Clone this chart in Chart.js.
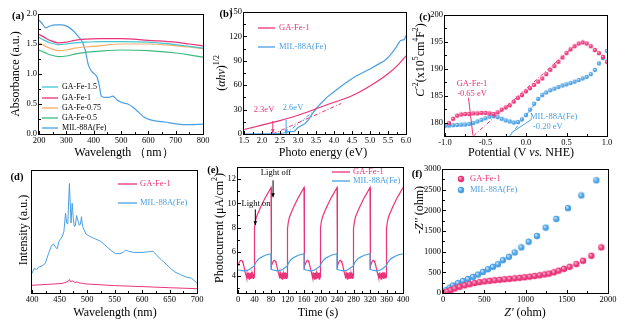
<!DOCTYPE html>
<html>
<head>
<meta charset="utf-8">
<script src="https://cdn.jsdelivr.net/npm/chart.js@4.4.1/dist/chart.umd.min.js"></script>
<style>
  html, body { margin: 0; padding: 0; background: #fff; }
  body { position: relative; width: 626px; height: 325px; overflow: hidden; }
  canvas { position: absolute; }
</style>
</head>
<body>
<canvas id="pa"></canvas>
<canvas id="pb"></canvas>
<canvas id="pc"></canvas>
<canvas id="pd"></canvas>
<canvas id="pe"></canvas>
<canvas id="pf"></canvas>
<script>
// ---------- (a) absorbance ----------
const aWave   = [200, 220, 240, 270, 300, 330, 370, 420, 500, 600, 700, 750, 800];
const aGA15   = [1.61, 1.56, 1.52, 1.49, 1.50, 1.52, 1.53, 1.54, 1.54, 1.53, 1.49, 1.46, 1.43];
const aGA1    = [1.66, 1.61, 1.56, 1.52, 1.53, 1.56, 1.58, 1.59, 1.59, 1.56, 1.53, 1.50, 1.47];
const aGA075  = [1.52, 1.47, 1.43, 1.39, 1.40, 1.43, 1.45, 1.47, 1.50, 1.50, 1.47, 1.45, 1.42];
const aGA05   = [1.40, 1.36, 1.32, 1.29, 1.30, 1.33, 1.36, 1.38, 1.40, 1.39, 1.35, 1.32, 1.28];
const aMilWave = [200, 210, 225, 240, 260, 285, 305, 325, 345, 360, 370, 380, 390, 400, 412, 420,
                  428, 440, 455, 470, 485, 500, 525, 545, 565, 585, 605, 630, 660, 700, 750, 800];
const aMil     = [1.90, 1.85, 1.77, 1.80, 1.82, 1.82, 1.79, 1.72, 1.62, 1.52, 1.38, 1.16, 1.06, 1.01, 0.95, 0.82,
                  0.63, 0.61, 0.61, 0.63, 0.57, 0.53, 0.50, 0.44, 0.36, 0.28, 0.24, 0.215, 0.20, 0.17, 0.155, 0.165];
const aLabels = ['GA-Fe-1.5', 'GA-Fe-1', 'GA-Fe-0.75', 'GA-Fe-0.5', 'MIL-88A(Fe)'];

// ---------- (b) Tauc plot ----------
const bE    = [1.5, 2.0, 2.5, 3.0, 3.5, 4.0, 4.5, 5.0, 5.5, 5.8, 6.0];
const bGA   = [5.5, 11, 16.5, 23, 31, 39, 47, 59, 74, 86, 96];
const bMilE = [1.5, 2.0, 2.4, 2.6, 2.7, 2.8, 2.9, 3.0, 3.1, 3.2, 3.3, 3.4, 3.5, 3.6, 3.8, 4.0,
               4.3, 4.6, 5.0, 5.2, 5.4, 5.5, 5.6, 5.7, 5.8, 5.85, 5.95, 6.0];
const bMil  = [0, 0.3, 0.6, 1.2, 2.5, 2.8, 3.2, 8, 10.5, 13, 18, 25, 31, 36, 45, 52,
               62, 71, 80, 85, 90, 94, 99, 105, 112, 115, 116, 121];
const bTanGAx = [2.3, 4.2],  bTanGAy = [0, 37.5];
const bTanMilx = [2.65, 3.55], bTanMily = [0, 32];
const bArrowX = [2.3, 2.67], bArrowTop = [16, 18], bArrowEnd = [1, 0.5];
const bGaps = ['2.3eV', '2.6eV'];

// ---------- (c) Mott-Schottky ----------
const cV   = [-0.95, -0.9, -0.85, -0.8, -0.75, -0.7, -0.65, -0.6, -0.55, -0.5, -0.45, -0.4, -0.35, -0.3,
              -0.25, -0.2, -0.15, -0.1, -0.05, 0, 0.05, 0.1, 0.15, 0.2, 0.25, 0.3, 0.35, 0.4, 0.45,
              0.5, 0.55, 0.6, 0.65, 0.7, 0.75, 0.8, 0.85, 0.9, 0.95, 1.0];
const cGA  = [179.9, 180.7, 181.3, 181.5, 181.6, 181.6, 181.7, 181.7, 181.8, 181.8, 181.7, 181.6, 181.9, 182.4,
              182.8, 183.2, 183.9, 184.6, 185.1, 185.8, 186.4, 187.0, 187.6, 188.2, 189.0, 189.8, 190.5, 191.3, 192.1,
              192.9, 193.6, 194.2, 194.7, 194.9, 194.7, 194.2, 193.5, 192.9, 192.2, 191.3];
const cVb  = [-1.0, -0.95, -0.9, -0.85, -0.8, -0.75, -0.7, -0.65, -0.6, -0.55, -0.5, -0.45, -0.4, -0.35,
              -0.3, -0.25, -0.2, -0.15, -0.1, -0.05, 0, 0.05, 0.1, 0.15, 0.2, 0.25, 0.3, 0.35, 0.4, 0.45,
              0.5, 0.55, 0.6, 0.65, 0.7, 0.75, 0.8, 0.85, 0.9, 0.95, 1.0];
const cMil = [179.4, 179.45, 179.5, 179.55, 179.6, 179.65, 179.75, 179.9, 180.2, 180.5, 180.8, 181.1, 181.2, 181.0,
              180.7, 180.4, 180.2, 180.0, 180.1, 180.6, 181.4, 182.4, 183.5, 184.4, 185.1, 185.6, 186.0, 186.3, 186.6, 186.9,
              187.1, 187.35, 187.6, 187.9, 188.2, 188.5, 189.0, 189.8, 191.0, 192.0, 193.3];
const cTanGAx = [-0.65, 0.6], cTanGAy = [177.5, 194.3];
const cTanMilx = [-0.2, 0.22], cTanMily = [177.5, 185.6];
const cLeadGA = [-0.71, 184.6, -0.655, 177.6];
const cLeadMil = [0.07, 180.6, -0.18, 178.1];
const cFlat = ['-0.65 eV', '-0.20 eV'];

// ---------- (d) PL ----------
const dWave = [400, 404, 408, 412, 418, 424, 430, 435, 439, 443, 446, 449, 452, 455, 458, 461, 463, 465, 468, 471,
               473, 475, 477, 479, 481, 484, 486, 488, 490, 492, 494, 498, 505, 515, 525, 535, 545, 552, 560, 566,
               570, 575, 585, 600, 612, 620, 626, 635, 645, 652, 660, 670, 680, 690, 700];
const dMil  = [16, 20, 19, 21, 22, 24, 32, 38, 40, 37, 36, 42, 44, 46, 50, 65, 57, 56, 89, 57,
               73, 61, 54, 55, 63, 58, 55, 56, 62, 54, 52, 48, 46, 44, 42, 38, 34, 32, 32, 33,
               35, 34, 33, 33, 33.5, 34, 31, 27, 23, 20, 17, 15, 13, 12, 8];
const dWave2 = [400, 420, 440, 455, 462, 466, 468, 470, 474, 478, 482, 486, 490, 500, 520, 550, 600, 650, 700];
const dGA    = [6.3, 6.8, 7.3, 7.8, 8.8, 9.5, 11, 9.2, 9.8, 8.5, 9.0, 8.2, 8.0, 7.3, 6.8, 6.0, 5.2, 4.3, 3.5];

// ---------- (e) photocurrent ----------
const eTime = [
  0,2,4,6,8,10,12,14,16,18,20,21,22,23,24,25,26,27,28,29,30,31,32,33,34,35,36,37,38,39,40,40,42,45,50,55,60,65,70,75,80,
  80,82,84,86,88,90,92,94,96,98,100,101,102,103,104,105,106,107,108,109,110,111,112,113,114,115,116,117,118,119,120,120,122,125,130,135,140,145,150,155,160,
  160,162,164,166,168,170,172,174,176,178,180,181,182,183,184,185,186,187,188,189,190,191,192,193,194,195,196,197,198,199,200,200,202,205,210,215,220,225,230,235,240,
  240,242,244,246,248,250,252,254,256,258,260,261,262,263,264,265,266,267,268,269,270,271,272,273,274,275,276,277,278,279,280,280,282,285,290,295,300,305,310,315,320,
  320,322,324,326,328,330,332,334,336,338,340,341,342,343,344,345,346,347,348,349,350,351,352,353,354,355,356,357,358,359,360,360,362,365,370,375,380,385,390,395,400];
const ePink = [
  4.9,5.05,5.2,5.28,5.3,5.25,5.1,4.85,4.55,4.25,4.0,3.85,4.2,3.8,4.25,3.85,4.3,3.75,4.2,3.8,4.25,3.75,4.3,3.8,4.2,3.85,4.3,3.8,4.15,3.9,4.1,8.0,8.5,8.9,9.3,9.7,10.05,10.4,10.7,11.0,11.3,
  4.6,4.85,5.1,5.25,5.3,5.25,5.1,4.85,4.55,4.25,4.0,3.8,4.25,3.85,4.3,3.8,4.2,3.75,4.3,3.85,4.2,3.8,4.25,3.75,4.3,3.85,4.2,3.8,4.25,3.9,4.1,7.9,8.45,8.9,9.3,9.7,10.05,10.4,10.7,11.0,11.3,
  4.6,4.8,5.05,5.22,5.3,5.27,5.12,4.88,4.58,4.28,4.0,3.85,4.3,3.8,4.2,3.75,4.25,3.85,4.3,3.8,4.2,3.75,4.3,3.85,4.25,3.8,4.2,3.75,4.3,3.9,4.05,7.95,8.5,8.9,9.3,9.7,10.05,10.4,10.7,11.0,11.3,
  4.6,4.85,5.1,5.25,5.3,5.25,5.1,4.85,4.55,4.25,4.0,3.8,4.2,3.85,4.3,3.75,4.25,3.8,4.2,3.85,4.3,3.8,4.25,3.75,4.2,3.85,4.3,3.8,4.2,3.9,4.1,7.9,8.45,8.9,9.3,9.7,10.05,10.4,10.7,11.0,11.3,
  4.6,4.85,5.1,5.25,5.3,5.25,5.1,4.85,4.55,4.25,4.0,3.85,4.25,3.8,4.3,3.85,4.2,3.75,4.25,3.8,4.3,3.85,4.2,3.75,4.3,3.8,4.25,3.85,4.2,3.9,4.1,7.9,8.45,8.9,9.3,9.7,10.05,10.4,10.7,11.0,11.3];
const eTimeB = [
  0,5,10,15,20,25,30,35,40,42,45,50,55,60,65,70,75,80,
  80,85,90,95,100,105,110,115,120,122,125,130,135,140,145,150,155,160,
  160,165,170,175,180,185,190,195,200,202,205,210,215,220,225,230,235,240,
  240,245,250,255,260,265,270,275,280,282,285,290,295,300,305,310,315,320,
  320,325,330,335,340,345,350,355,360,362,365,370,375,380,385,390,395,400];
const eMil = [
  4.5,4.48,4.45,4.42,4.45,4.5,4.6,4.72,4.85,5.05,5.22,5.4,5.52,5.62,5.7,5.76,5.8,5.84,
  4.55,4.5,4.46,4.43,4.45,4.5,4.6,4.72,4.85,5.05,5.22,5.4,5.52,5.62,5.7,5.76,5.8,5.84,
  4.55,4.5,4.46,4.43,4.45,4.5,4.6,4.72,4.85,5.05,5.22,5.4,5.52,5.62,5.7,5.76,5.8,5.84,
  4.55,4.5,4.46,4.43,4.45,4.5,4.6,4.72,4.85,5.05,5.22,5.4,5.52,5.62,5.7,5.76,5.8,5.84,
  4.55,4.5,4.46,4.43,4.45,4.5,4.6,4.72,4.85,5.05,5.22,5.4,5.52,5.62,5.7,5.76,5.8,5.84];
const eArrowT = [85, 42], eArrowFrom = [11.9, 9.5], eArrowTo = [10.5, 8.2];

// ---------- (f) Nyquist ----------
const fGaRe = [20, 53, 93, 141, 202, 263, 323, 384, 444, 505, 566, 626, 687, 747, 808, 869, 929, 990, 1051, 1111,
               1172, 1232, 1285, 1345, 1402, 1467, 1535, 1616, 1697, 1798, 1919];
const fGaIm = [10, 35, 70, 110, 150, 185, 212, 240, 262, 280, 295, 308, 320, 332, 343, 355, 367, 380, 395, 410,
               428, 448, 470, 500, 540, 585, 635, 700, 780, 900, 1103];
const fMilRe = [12, 40, 81, 121, 182, 242, 303, 364, 424, 485, 545, 606, 667, 727, 800, 869, 950, 1038, 1139, 1244,
                1374, 1515, 1677, 1859];
const fMilIm = [20, 70, 130, 180, 240, 290, 340, 390, 446, 511, 576, 633, 697, 795, 876, 981, 1103, 1241, 1379, 1581,
                1792, 2052, 2360, 2725];
const names = ['GA-Fe-1', 'MIL-88A(Fe)'];

const PINK = '#ea3479', BLUE = '#4a9fe2', CYAN = '#3fc7d0', ORANGE = '#f8ae6b', GREEN = '#3dba80';
const SERIF = '"Liberation Serif", "Times New Roman", serif';

function xy(xs, ys) { return xs.map((x, i) => ({x: x, y: ys[i]})); }

function rich(ctx, x, y, parts, o) {
  o = o || {};
  const size = o.size || 12;
  parts = parts.map(p => typeof p === 'string' ? {t: p} : p);
  const fonts = parts.map(p => (p.it ? 'italic ' : '') + (o.bold ? 'bold ' : '') +
    (p.sup ? size * 0.65 : size) + 'px ' + SERIF);
  let w = 0;
  parts.forEach((p, i) => { ctx.font = fonts[i]; w += ctx.measureText(p.t).width; });
  ctx.save();
  ctx.translate(x, y);
  if (o.rot) ctx.rotate(o.rot * Math.PI / 180);
  let cx = o.align === 'left' ? 0 : -w / 2;
  ctx.textAlign = 'left';
  ctx.textBaseline = 'middle';
  parts.forEach((p, i) => {
    ctx.font = fonts[i];
    ctx.fillStyle = p.color || o.color || '#000';
    ctx.fillText(p.t, cx, p.sup ? -size * 0.38 : 0);
    cx += ctx.measureText(p.t).width;
  });
  ctx.restore();
}

function arrow(ctx, x1, y1, x2, y2, color, head) {
  ctx.save();
  ctx.strokeStyle = color; ctx.fillStyle = color; ctx.lineWidth = 1;
  ctx.beginPath(); ctx.moveTo(x1, y1); ctx.lineTo(x2, y2); ctx.stroke();
  if (head) {
    const a = Math.atan2(y2 - y1, x2 - x1), L = 4, W = 1.8;
    ctx.beginPath();
    ctx.moveTo(x2, y2);
    ctx.lineTo(x2 - L * Math.cos(a) + W * Math.sin(a), y2 - L * Math.sin(a) - W * Math.cos(a));
    ctx.lineTo(x2 - L * Math.cos(a) - W * Math.sin(a), y2 - L * Math.sin(a) + W * Math.cos(a));
    ctx.closePath(); ctx.fill();
  }
  ctx.restore();
}

// shaded ball used as point style
function ball(color, light, r) {
  const c = document.createElement('canvas');
  const s = Math.ceil(r * 2 + 1);
  c.width = c.height = s;
  const g = c.getContext('2d');
  const grd = g.createRadialGradient(s / 2 - r * 0.35, s / 2 - r * 0.35, r * 0.1, s / 2, s / 2, r);
  grd.addColorStop(0, light);
  grd.addColorStop(0.55, color);
  grd.addColorStop(1, color);
  g.fillStyle = grd;
  g.beginPath(); g.arc(s / 2, s / 2, r, 0, Math.PI * 2); g.fill();
  return c;
}

function lineSet(label, data, color, extra) {
  return Object.assign({label: label, data: data, showLine: true, borderColor: color, backgroundColor: color,
    borderWidth: 1.2, pointRadius: 0, fill: false, tension: 0}, extra || {});
}

function panel(id, box, plot, o) {
  const cv = document.getElementById(id);
  cv.width = box.w; cv.height = box.h;
  cv.style.left = box.x + 'px'; cv.style.top = box.y + 'px';
  const tickFont = {family: SERIF, size: 8.5};
  const fmt = o.fmt || {};
  const deco = {
    id: 'deco',
    afterDraw(chart) {
      const ctx = chart.ctx, a = chart.chartArea;
      ctx.save();
      ctx.strokeStyle = '#000'; ctx.lineWidth = 1;
      ctx.strokeRect(a.left - 0.5, a.top + 0.5, a.right - a.left + 1, a.bottom - a.top);
      ['x', 'y'].forEach(k => {
        if (k === 'y' && o.noY) return;
        const s = chart.scales[k];
        const vals = s.ticks.map(t => t.value);
        const step = vals[1] - vals[0];
        vals.forEach(v => {
          [[v, 3], [v + step / 2, 1.8], [v - step / 2, 1.8]].forEach(([u, L]) => {
            if (u < s.min - 1e-9 || u > s.max + 1e-9) return;
            const p = Math.round(s.getPixelForValue(u)) + 0.5;
            ctx.beginPath();
            if (k === 'x') { ctx.moveTo(p, a.bottom); ctx.lineTo(p, a.bottom - L); }
            else { ctx.moveTo(a.left, p); ctx.lineTo(a.left + L, p); }
            ctx.stroke();
          });
        });
      });
      ctx.restore();
      (o.texts || []).forEach(t => rich(ctx, t.x - box.x, t.y - box.y, t.parts, t));
      if (o.extra) o.extra(chart, ctx, (px, py) => [px - box.x, py - box.y]);
    }
  };
  const sx = chart => chart;
  return new Chart(cv, {
    type: 'scatter',
    data: {datasets: o.datasets},
    options: {
      responsive: false, animation: false, devicePixelRatio: 1, events: [],
      layout: {autoPadding: false, padding: {left: 0, top: plot.t - box.y, right: box.x + box.w - plot.r, bottom: 0}},
      plugins: {legend: {display: false}, tooltip: {enabled: false}},
      scales: {
        x: {
          type: 'linear', position: 'bottom', min: o.x[0], max: o.x[1],
          grid: {display: false, drawTicks: false}, border: {display: false},
          ticks: {stepSize: o.x[2], font: tickFont, color: '#000', padding: 2, maxRotation: 0, autoSkip: false,
                  includeBounds: false, callback: fmt.x || (v => String(v))},
          afterFit: s => { s.height = box.y + box.h - plot.b; s.paddingLeft = 0; s.paddingRight = 0; }
        },
        y: {
          type: 'linear', position: 'left', min: o.y[0], max: o.y[1],
          grid: {display: false, drawTicks: false}, border: {display: false},
          ticks: {display: !o.noY, stepSize: o.y[2], font: tickFont, color: '#000', padding: 2, autoSkip: false,
                  includeBounds: false, callback: fmt.y || (v => String(v))},
          afterFit: s => { s.width = plot.l - box.x; s.paddingTop = 0; s.paddingBottom = 0; }
        }
      }
    },
    plugins: [deco]
  });
}

function legendLines(ctx, toC, items, x1, x2, tx, size, colorText) {
  items.forEach(it => {
    const [a, y] = toC(x1, it.y), [b] = toC(x2, it.y), [t] = toC(tx, it.y);
    ctx.save();
    ctx.strokeStyle = it.color; ctx.lineWidth = 1.3;
    ctx.beginPath(); ctx.moveTo(a, y); ctx.lineTo(b, y); ctx.stroke();
    ctx.restore();
    rich(ctx, t, y, [it.label], {size: size, align: 'left', color: colorText ? it.color : '#000'});
  });
}

// ---------- panel a ----------
const aColors = [CYAN, PINK, ORANGE, GREEN, BLUE];
panel('pa', {x: 0, y: 0, w: 210, h: 163}, {l: 39, t: 14, r: 203, b: 134}, {
  x: [200, 800, 100], y: [0, 2.0, 0.5], fmt: {y: v => v.toFixed(1)},
  datasets: [
    lineSet(aLabels[0], xy(aWave, aGA15), CYAN, {cubicInterpolationMode: 'monotone'}),
    lineSet(aLabels[1], xy(aWave, aGA1), PINK, {cubicInterpolationMode: 'monotone'}),
    lineSet(aLabels[2], xy(aWave, aGA075), ORANGE, {cubicInterpolationMode: 'monotone'}),
    lineSet(aLabels[3], xy(aWave, aGA05), GREEN, {cubicInterpolationMode: 'monotone'}),
    lineSet(aLabels[4], xy(aMilWave, aMil), BLUE, {cubicInterpolationMode: 'monotone'})
  ],
  texts: [
    {x: 18, y: 16, parts: ['(a)'], size: 10.5, bold: true},
    {x: 16, y: 74, rot: -90, parts: ['Absorbance (a.u.)'], size: 12},
    {x: 124, y: 153, parts: ['Wavelength （nm）'], size: 12}
  ],
  extra(chart, ctx, toC) {
    const ys = [87, 98, 108, 118, 128];
    legendLines(ctx, toC, aLabels.map((l, i) => ({label: l, color: aColors[i], y: ys[i]})), 42, 58, 62, 8, false);
  }
});

// ---------- panel b ----------
panel('pb', {x: 205, y: 0, w: 210, h: 163}, {l: 244, t: 12, r: 406, b: 134}, {
  x: [1.5, 6.0, 0.5], y: [0, 150, 30], fmt: {x: v => v.toFixed(1)},
  datasets: [
    lineSet(names[0], xy(bE, bGA), PINK, {cubicInterpolationMode: 'monotone'}),
    lineSet(names[1], xy(bMilE, bMil), BLUE),
    lineSet('tanGA', xy(bTanGAx, bTanGAy), PINK, {borderWidth: 1, borderDash: [4, 2, 1, 2]}),
    lineSet('tanMil', xy(bTanMilx, bTanMily), BLUE, {borderWidth: 1, borderDash: [4, 2, 1, 2]})
  ],
  texts: [
    {x: 226, y: 14, parts: ['(b)'], size: 10.5, bold: true},
    {x: 222, y: 73, rot: -90, size: 12, parts: ['(', {t: 'αhν', it: true}, ')', {t: '1/2', sup: true}]},
    {x: 323, y: 153, parts: ['Photo energy (eV)'], size: 12},
    {x: 264, y: 110, parts: [bGaps[0]], size: 8.5, color: PINK},
    {x: 293, y: 108, parts: [bGaps[1]], size: 8.5, color: BLUE}
  ],
  extra(chart, ctx, toC) {
    const xs = chart.scales.x, ys = chart.scales.y;
    [PINK, BLUE].forEach((c, i) => {
      const px = xs.getPixelForValue(bArrowX[i]);
      arrow(ctx, px, ys.getPixelForValue(bArrowTop[i]), px, ys.getPixelForValue(bArrowEnd[i]), c, true);
    });
    legendLines(ctx, toC, [{label: names[0], color: PINK, y: 28}, {label: names[1], color: BLUE, y: 47}],
      258, 275, 279, 8.5, true);
  }
});

// ---------- panel c ----------
const ballPinkS = ball(PINK, '#ffc4da', 2.2), ballBlueS = ball(BLUE, '#d4ebfc', 2.2);
panel('pc', {x: 412, y: 0, w: 214, h: 163}, {l: 445, t: 15, r: 607, b: 136}, {
  x: [-1.0, 1.0, 0.5], y: [177.5, 200, 5], fmt: {x: v => v.toFixed(1)},
  datasets: [
    lineSet('tanGA', xy(cTanGAx, cTanGAy), PINK, {borderWidth: 1, borderDash: [4, 2, 1, 2]}),
    lineSet('tanMil', xy(cTanMilx, cTanMily), BLUE, {borderWidth: 1, borderDash: [4, 2, 1, 2]}),
    {label: names[0], data: xy(cV, cGA), pointStyle: ballPinkS, pointRadius: 2, showLine: false},
    {label: names[1], data: xy(cVb, cMil), pointStyle: ballBlueS, pointRadius: 2, showLine: false}
  ],
  texts: [
    {x: 425, y: 17, parts: ['(c)'], size: 10.5, bold: true},
    {x: 421, y: 60, rot: -90, size: 12, parts: [{t: 'C', it: true}, {t: '-2', sup: true}, '(x10', {t: '5', sup: true},
      'cm', {t: '4', sup: true}, 'F', {t: '2', sup: true}, ')']},
    {x: 521, y: 153, size: 12, parts: ['Potential (V ', {t: 'vs.', it: true}, ' NHE)']},
    {x: 472, y: 84, parts: [names[0]], size: 8.5, color: PINK},
    {x: 472, y: 94, parts: [cFlat[0]], size: 8.5, color: PINK},
    {x: 530, y: 117, parts: [names[1]], size: 8.5, color: BLUE, align: 'left'},
    {x: 533, y: 127, parts: [cFlat[1]], size: 8.5, color: BLUE, align: 'left'}
  ],
  extra(chart, ctx) {
    const xs = chart.scales.x, ys = chart.scales.y;
    [[cLeadGA, PINK], [cLeadMil, BLUE]].forEach(([l, c]) => {
      arrow(ctx, xs.getPixelForValue(l[0]), ys.getPixelForValue(l[1]),
        xs.getPixelForValue(l[2]), ys.getPixelForValue(l[3]), c, false);
    });
  }
});

// ---------- panel d ----------
panel('pd', {x: 0, y: 163, w: 210, h: 162}, {l: 32, t: 170, r: 197, b: 293}, {
  x: [400, 700, 50], y: [0, 100, 20], noY: true,
  datasets: [
    lineSet(names[0], xy(dWave2, dGA), PINK, {borderWidth: 1}),
    lineSet(names[1], xy(dWave, dMil), BLUE, {borderWidth: 1})
  ],
  texts: [
    {x: 17, y: 177, parts: ['(d)'], size: 10.5, bold: true},
    {x: 24, y: 230, rot: -90, parts: ['Intensity (a.u.)'], size: 12},
    {x: 115, y: 313, parts: ['Wavelength (nm)'], size: 12}
  ],
  extra(chart, ctx, toC) {
    legendLines(ctx, toC, [{label: names[0], color: PINK, y: 184}, {label: names[1], color: BLUE, y: 203}],
      118, 137, 140, 8.5, true);
  }
});

// ---------- panel e ----------
panel('pe', {x: 205, y: 163, w: 210, h: 162}, {l: 238, t: 167, r: 403, b: 293}, {
  x: [0, 400, 40], y: [2.6, 13, 2],
  datasets: [
    lineSet(names[1], xy(eTimeB, eMil), BLUE, {borderWidth: 1.2}),
    lineSet(names[0], xy(eTime, ePink), PINK, {borderWidth: 1.2})
  ],
  texts: [
    {x: 213, y: 170, parts: ['(e)'], size: 10.5, bold: true},
    {x: 220, y: 228, rot: -90, size: 12, parts: ['Photocurrent (μA/cm', {t: '2', sup: true}, ')']},
    {x: 318, y: 313, parts: ['Time (s)'], size: 12},
    {x: 276, y: 173, parts: ['Light off'], size: 8.5},
    {x: 256, y: 204, parts: ['Light on'], size: 8.5}
  ],
  extra(chart, ctx, toC) {
    const xs = chart.scales.x, ys = chart.scales.y;
    eArrowT.forEach((t, i) => {
      const px = xs.getPixelForValue(t);
      arrow(ctx, px, ys.getPixelForValue(eArrowFrom[i]), px, ys.getPixelForValue(eArrowTo[i]), '#000', true);
    });
    legendLines(ctx, toC, [{label: names[0], color: PINK, y: 172}, {label: names[1], color: BLUE, y: 181}],
      332, 350, 353, 8.5, true);
  }
});

// ---------- panel f ----------
const ballPinkL = ball(PINK, '#ffc4da', 3.2), ballBlueL = ball(BLUE, '#d4ebfc', 3.2);
panel('pf', {x: 408, y: 163, w: 218, h: 162}, {l: 443, t: 169, r: 608, b: 293}, {
  x: [0, 2000, 500], y: [0, 3000, 500],
  datasets: [
    {label: names[0], data: xy(fGaRe, fGaIm), pointStyle: ballPinkL, pointRadius: 3, showLine: false},
    {label: names[1], data: xy(fMilRe, fMilIm), pointStyle: ballBlueL, pointRadius: 3, showLine: false}
  ],
  texts: [
    {x: 417, y: 174, parts: ['(f)'], size: 10.5, bold: true},
    {x: 420, y: 210, rot: -90, size: 12, parts: ['-', {t: "Z''", it: true}, ' (ohm)']},
    {x: 525, y: 313, size: 12, parts: [{t: "Z'", it: true}, ' (ohm)']}
  ],
  extra(chart, ctx, toC) {
    [[ballPinkL, PINK, names[0], 179], [ballBlueL, BLUE, names[1], 190]].forEach(([img, c, l, y]) => {
      const [bx, by] = toC(461, y), [tx] = toC(470, y);
      ctx.drawImage(img, bx - img.width / 2, by - img.height / 2);
      rich(ctx, tx, by, [l], {size: 8.5, align: 'left', color: c});
    });
  }
});
</script>
</body>
</html>
